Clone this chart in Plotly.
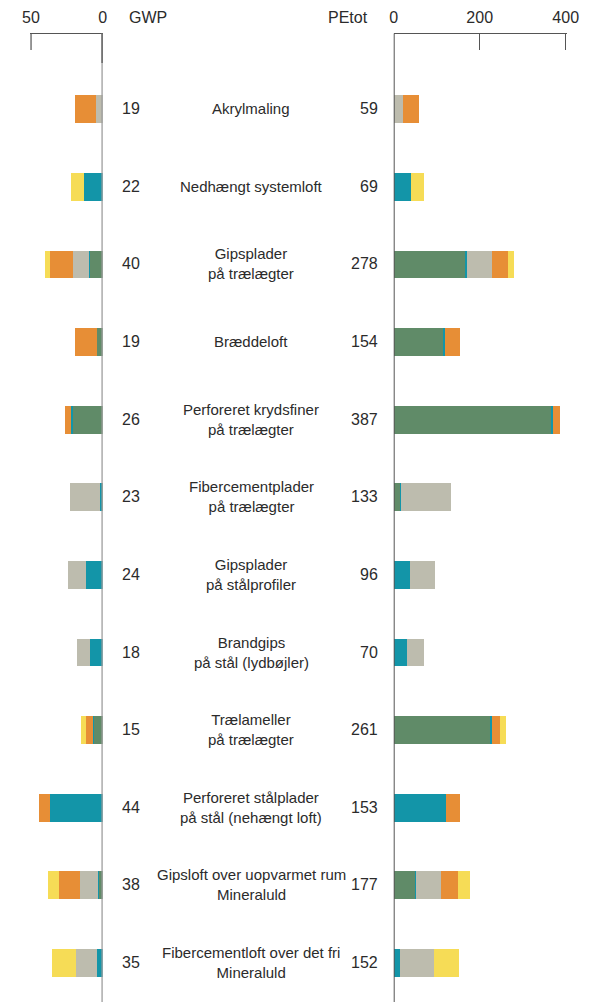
import plotly.graph_objects as go

# page body has an 8px default margin; figure is sized to fill the rest
OFF = 8
W, H = 594 - OFF, 1002 - OFF

labels = [
    "Akrylmaling",
    "Nedhængt systemloft",
    "Gipsplader<br>på trælægter",
    "Bræddeloft",
    "Perforeret krydsfiner<br>på trælægter",
    "Fibercementplader<br>på trælægter",
    "Gipsplader<br>på stålprofiler",
    "Brandgips<br>på stål (lydbøjler)",
    "Trælameller<br>på trælægter",
    "Perforeret stålplader<br>på stål (nehængt loft)",
    "Gipsloft over uopvarmet rum<br>Mineraluld",
    "Fibercementloft over det fri<br>Mineraluld",
]
gwp_totals = [19, 22, 40, 19, 26, 23, 24, 18, 15, 44, 38, 35]
pe_totals = [59, 69, 278, 154, 387, 133, 96, 70, 261, 153, 177, 152]

# GWP components (stacked outward from 0)
green_gwp = [0, 0, 9.2, 4.2, 21.2, 0.6, 0, 0, 6.3, 0, 2.6, 0]
teal_gwp = [0, 12.6, 0.5, 0, 0.7, 1.1, 11.6, 8.9, 0.3, 37, 0.7, 4]
gray_gwp = [4.4, 0, 11.2, 0, 0, 21.3, 12.4, 9.1, 0, 0, 12.1, 14.5]
orange_gwp = [14.6, 0, 15.5, 14.8, 4.1, 0, 0, 0, 4.9, 7, 14.8, 0]
yellow_gwp = [0, 9.4, 3.6, 0, 0, 0, 0, 0, 3.5, 0, 7.8, 16.5]

# PEtot components
green_pe = [0, 0, 167, 116, 364, 14.7, 0, 0, 224, 0, 50, 0]
teal_pe = [0, 40, 2, 1.5, 5, 2.3, 38, 31, 5, 121, 1.5, 15]
gray_pe = [22, 0, 58, 0, 0, 116, 58, 39, 0, 0, 58, 77]
orange_pe = [37, 0, 39, 36.5, 18, 0, 0, 0, 18, 32, 39.5, 0]
yellow_pe = [0, 29, 12, 0, 0, 0, 0, 0, 14, 0, 28, 60]

gwp_ticks = [50, 0]
pe_ticks = [0, 200, 400]

colors = {
    "green": "#608b68",
    "teal": "#1395a8",
    "gray": "#bdbcae",
    "orange": "#e78e36",
    "yellow": "#f6dc56",
}

FONT = "Liberation Sans, Arial, sans-serif"
FS = 15
TXT = "#2b2b2b"

rows = list(range(len(labels)))
fig = go.Figure()

gwp_series = [("green", green_gwp), ("teal", teal_gwp), ("gray", gray_gwp),
              ("orange", orange_gwp), ("yellow", yellow_gwp)]
pe_series = [("green", green_pe), ("teal", teal_pe), ("gray", gray_pe),
             ("orange", orange_pe), ("yellow", yellow_pe)]

BW = 0.357
for name, vals in gwp_series:
    fig.add_trace(go.Bar(x=vals, y=rows, orientation="h", xaxis="x", yaxis="y",
                         marker=dict(color=colors[name], line=dict(width=0)),
                         width=BW, showlegend=False, name=name))
for name, vals in pe_series:
    fig.add_trace(go.Bar(x=vals, y=rows, orientation="h", xaxis="x2", yaxis="y",
                         marker=dict(color=colors[name], line=dict(width=0)),
                         width=BW, showlegend=False, name=name))

top_px = 33.5 - OFF
ytop = 1 - top_px / H

def px(xp):
    return (xp - OFF) / W

def py(yp):
    return 1 - (yp - OFF) / H

axis_common = dict(side="top", showline=True, linecolor="#555", linewidth=1.3,
                   ticks="inside", ticklen=16, tickwidth=1.3, tickcolor="#555",
                   showgrid=False, zeroline=False, automargin=False,
                   tickfont=dict(family=FONT, size=16, color=TXT),
                   ticklabelstandoff=3, anchor="y")

# scales: left 1.44 px / unit, right 0.43 px / unit; small padding keeps edge ticks visible
fig.update_layout(
    width=W, height=H,
    margin=dict(l=0, r=0, t=0, b=0, pad=0),
    paper_bgcolor="white", plot_bgcolor="white",
    barmode="stack",
    bargap=0,
    xaxis=dict(domain=[px(31 - 0.6 * 1.44), px(102.7)], range=[50.6, 0],
               tickvals=gwp_ticks, **axis_common),
    xaxis2=dict(domain=[px(393.7), px(565.7 + 3 * 0.43)], range=[0, 403],
                tickvals=pe_ticks, **axis_common),
    yaxis=dict(domain=[0, ytop], range=[11.51, -0.97], showticklabels=False,
               showgrid=False, zeroline=False, showline=False, ticks="",
               automargin=False),
    font=dict(family=FONT, color=TXT),
)

# vertical zero lines
fig.add_shape(type="line", xref="x", yref="paper", x0=0, x1=0, y0=0, y1=ytop,
              line=dict(color="#9a9a9a", width=2.5), layer="above")
fig.add_shape(type="line", xref="x", yref="paper", x0=0, x1=0, y0=py(63), y1=ytop,
              line=dict(color="#555", width=2.5), layer="above")
fig.add_shape(type="line", xref="x2", yref="paper", x0=0, x1=0, y0=0, y1=ytop,
              line=dict(color="#555", width=2), layer="above")
# edge tick at the end of the GWP scale
fig.add_shape(type="line", xref="x", yref="paper", x0=gwp_ticks[0], x1=gwp_ticks[0],
              y0=py(50), y1=ytop, line=dict(color="#555", width=1.3), layer="above")

ann = []
for i in rows:
    ann.append(dict(x=px(131), y=i, xref="paper", yref="y", text=str(gwp_totals[i]),
                    showarrow=False, xanchor="center", yanchor="middle",
                    font=dict(family=FONT, size=16, color=TXT)))
    ann.append(dict(x=px(380), y=i, xref="paper", yref="y", text=str(pe_totals[i]),
                    showarrow=False, xanchor="right", yanchor="middle",
                    font=dict(family=FONT, size=16, color=TXT)))
    ann.append(dict(x=px(251), y=i, xref="paper", yref="y", text=labels[i],
                    showarrow=False, xanchor="center", yanchor="middle",
                    font=dict(family=FONT, size=FS, color=TXT)))
ann.append(dict(x=px(127), y=py(18), xref="paper", yref="paper", text="GWP",
                showarrow=False, xanchor="left", yanchor="middle",
                font=dict(family=FONT, size=16, color=TXT)))
ann.append(dict(x=px(370), y=py(18), xref="paper", yref="paper", text="PEtot",
                showarrow=False, xanchor="right", yanchor="middle",
                font=dict(family=FONT, size=16, color=TXT)))
fig.update_layout(annotations=ann)

fig.write_html("out.html")
